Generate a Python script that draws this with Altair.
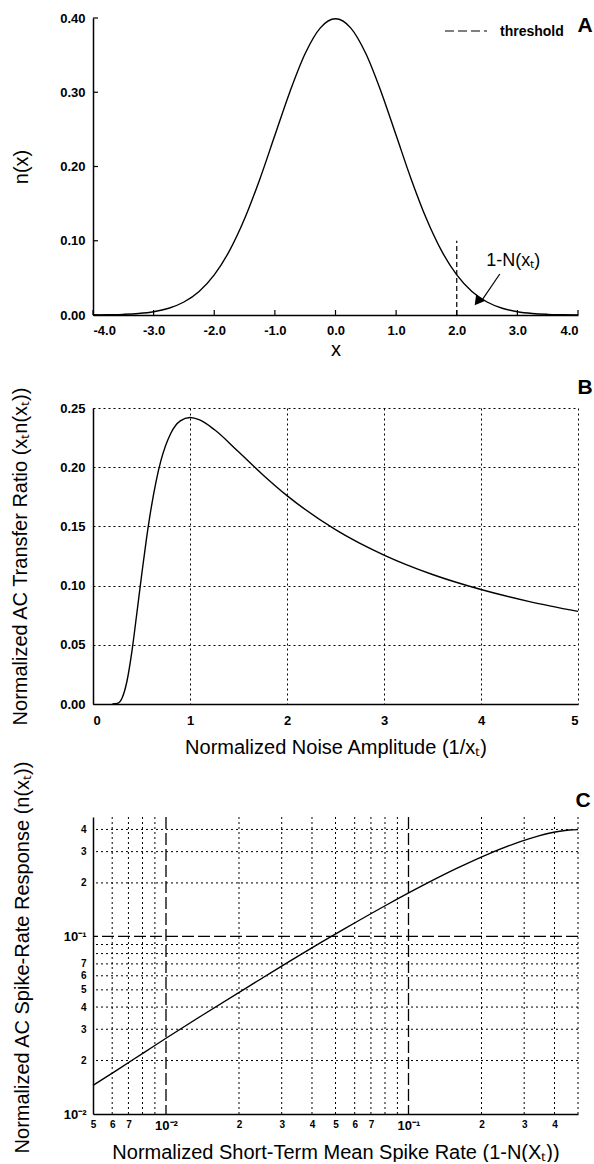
import altair as alt
import pandas as pd

FONT = "Liberation Sans"
W = 485
H = 297

# ---------------- Panel A : n(x) ----------------
a_x = [-4.0, -3.75, -3.5, -3.25, -3.0, -2.75, -2.5, -2.25, -2.0, -1.75, -1.5, -1.25, -1.0,
       -0.75, -0.5, -0.25, 0.0, 0.25, 0.5, 0.75, 1.0, 1.25, 1.5, 1.75, 2.0, 2.25, 2.5,
       2.75, 3.0, 3.25, 3.5, 3.75, 4.0]
a_y = [0.0001, 0.0004, 0.0009, 0.0020, 0.0044, 0.0091, 0.0175, 0.0317, 0.0540, 0.0863,
       0.1295, 0.1826, 0.2420, 0.3011, 0.3521, 0.3867, 0.3989, 0.3867, 0.3521, 0.3011,
       0.2420, 0.1826, 0.1295, 0.0863, 0.0540, 0.0317, 0.0175, 0.0091, 0.0044, 0.0020,
       0.0009, 0.0004, 0.0001]
a_xticks = [-4, -3, -2, -1, 0, 1, 2, 3, 4]
a_yticks = [0.0, 0.1, 0.2, 0.3, 0.4]
thr_x = [2.0]
thr_top = [0.10]
arrow_from = [2.71, 0.0552]
arrow_to = [2.40, 0.0180]
arrow_head = [2.36, 0.0200]
ann_pos = [2.93, 0.0727]

# ---------------- Panel B ----------------
b_s = [0.2, 0.25, 0.3, 0.35, 0.4, 0.45, 0.5, 0.55, 0.6, 0.65, 0.7, 0.8, 0.9, 1.0, 1.1,
       1.25, 1.5, 1.75, 2.0, 2.5, 3.0, 3.5, 4.0, 4.5, 5.0]
b_v = [0.0, 0.0005, 0.0051, 0.0192, 0.0438, 0.0754, 0.1080, 0.1389, 0.1657, 0.1879,
       0.2055, 0.2283, 0.2391, 0.2420, 0.2399, 0.2318, 0.2130, 0.1937, 0.1760, 0.1473,
       0.1258, 0.1094, 0.0967, 0.0865, 0.0782]
b_xticks = [0, 1, 2, 3, 4, 5]
b_yticks = [0.0, 0.05, 0.10, 0.15, 0.20, 0.25]

# ---------------- Panel C ----------------
c_q = [0.005, 0.00621, 0.0082, 0.0100, 0.0139, 0.0228, 0.0359, 0.0548, 0.0808, 0.1151,
       0.1587, 0.2119, 0.2743, 0.3446, 0.4207, 0.4602, 0.5]
c_n = [0.0145, 0.0175, 0.0224, 0.0267, 0.0355, 0.0540, 0.0790, 0.1109, 0.1497, 0.1942,
       0.2420, 0.2897, 0.3332, 0.3683, 0.3910, 0.3970, 0.3989]
c_x_minor = [0.006, 0.007, 0.008, 0.009, 0.02, 0.03, 0.04, 0.05, 0.06, 0.07, 0.08, 0.09,
             0.2, 0.3, 0.4, 0.5]
c_x_major = [0.01, 0.1]
c_y_minor = [0.02, 0.03, 0.04, 0.05, 0.06, 0.07, 0.08, 0.09, 0.2, 0.3, 0.4]
c_y_major = [0.1]
c_x_lab_vals = [0.005, 0.006, 0.007, 0.01, 0.02, 0.03, 0.04, 0.05, 0.06, 0.07, 0.1, 0.2, 0.3, 0.4]
c_x_lab_txt = ["5", "6", "7", "10⁻²", "2", "3", "4", "5", "6", "7", "10⁻¹", "2", "3", "4"]
c_y_lab_vals = [0.01, 0.02, 0.03, 0.04, 0.05, 0.06, 0.07, 0.1, 0.2, 0.3, 0.4]
c_y_lab_txt = ["10⁻²", "2", "3", "4", "5", "6", "7", "10⁻¹", "2", "3", "4"]


def label_expr(vals, txts):
    expr = "''"
    for v, t in reversed(list(zip(vals, txts))):
        expr = f"abs(datum.value - {v}) < {v}*1e-6 ? '{t}' : ({expr})"
    return expr


TITLE = dict(titleFontSize=20, titleFontWeight="normal", titleFont=FONT, titleColor="black")

# ======== Panel A ========
dfA = pd.DataFrame({"x": a_x, "y": a_y})
xA = alt.Scale(domain=[-4, 4], nice=False, zero=False)
yA = alt.Scale(domain=[0, 0.4], nice=False)
axA_x = alt.Axis(
    values=a_xticks, labelExpr="replace(format(datum.value, '.1f'), '\u2212', '-')",
    title="x", ticks=False, tickSize=0, grid=False, labelPadding=9,
    labelFontSize=13, labelFontWeight="bold", domainWidth=1.5,
    titleY=34, titleBaseline="middle", **TITLE)
axA_y = alt.Axis(
    values=a_yticks, format=".2f", title="n(x)", ticks=False, tickSize=0, grid=False,
    labelPadding=8, labelFontSize=13, labelFontWeight="bold", domainWidth=1.5,
    titleX=-72, titleBaseline="middle", titleAngle=270, **TITLE)


def XA(f="x"):
    return alt.X(f"{f}:Q", scale=xA, axis=axA_x)


def YA(f="y"):
    return alt.Y(f"{f}:Q", scale=yA, axis=axA_y)


curveA = alt.Chart(dfA).mark_line(color="black", strokeWidth=1.4, interpolate="monotone").encode(
    x=XA(), y=YA())
xticksA = alt.Chart(pd.DataFrame({"x": a_xticks})).mark_rule(color="black", strokeWidth=1.2).encode(
    x=XA(), y=alt.value(H), y2=alt.value(H - 5))
yticksA = alt.Chart(pd.DataFrame({"y": a_yticks})).mark_rule(color="black", strokeWidth=1.2).encode(
    y=YA(), x=alt.value(0), x2=alt.value(5))
thrA = alt.Chart(pd.DataFrame({"x": thr_x, "y": [0.0], "y2": thr_top})).mark_rule(
    color="black", strokeWidth=1.2, strokeDash=[5, 3]).encode(x=XA(), y=YA(), y2="y2:Q")
arrowA = alt.Chart(pd.DataFrame({"x": [arrow_from[0]], "y": [arrow_from[1]],
                                 "x2": [arrow_to[0]], "y2": [arrow_to[1]]})).mark_rule(
    color="black", strokeWidth=1.2).encode(x=XA(), y=YA(), x2="x2:Q", y2="y2:Q")
headA = alt.Chart(pd.DataFrame({"x": [arrow_head[0]], "y": [arrow_head[1]]})).mark_point(
    shape="triangle", filled=True, size=120, angle=218, color="black", opacity=1).encode(
    x=XA(), y=YA())
annA = alt.Chart(pd.DataFrame({"x": [ann_pos[0]], "y": [ann_pos[1]], "t": ["1-N(xₜ)"]})).mark_text(
    font=FONT, fontSize=18, color="black", align="center", baseline="middle").encode(
    x=XA(), y=YA(), text="t:N")
legLine = alt.Chart(pd.DataFrame({"k": [0]})).mark_rule(color="black", strokeWidth=1.2, strokeDash=[9, 4]).encode(
    x=alt.value(352), x2=alt.value(394), y=alt.value(13))
legText = alt.Chart(pd.DataFrame({"t": ["threshold"]})).mark_text(
    font=FONT, fontSize=14, fontWeight="bold", align="left", baseline="middle", color="black").encode(
    x=alt.value(407), y=alt.value(14), text="t:N")
letA = alt.Chart(pd.DataFrame({"t": ["A"]})).mark_text(
    font=FONT, fontSize=21, fontWeight="bold", align="center", baseline="middle", color="black").encode(
    x=alt.value(492), y=alt.value(8), text="t:N")

panelA = alt.layer(curveA, xticksA, yticksA, thrA, arrowA, headA, annA, legLine, legText, letA).properties(
    width=W, height=H)

# ======== Panel B ========
dfB = pd.DataFrame({"s": b_s, "v": b_v})
xB = alt.Scale(domain=[0, 5], nice=False, zero=False)
yB = alt.Scale(domain=[0, 0.25], nice=False)
curveB = alt.Chart(dfB).mark_line(color="black", strokeWidth=1.4, interpolate="monotone").encode(
    x=alt.X("s:Q", scale=xB, axis=alt.Axis(
        values=b_xticks, format="d", title="Normalized Noise Amplitude (1/xₜ)", ticks=False, tickSize=0,
        grid=True, gridDash=[2, 3], gridColor="black", gridOpacity=1, gridWidth=1,
        labelPadding=10, labelFontSize=13, labelFontWeight="bold", domainWidth=1.5,
        titleY=43, titleBaseline="middle", **TITLE)),
    y=alt.Y("v:Q", scale=yB, axis=alt.Axis(
        values=b_yticks, format=".2f", title="Normalized AC Transfer Ratio (xₜn(xₜ))", ticks=False,
        tickSize=0, grid=True, gridDash=[2, 3], gridColor="black", gridOpacity=1, gridWidth=1,
        labelPadding=8, labelFontSize=13, labelFontWeight="bold", domainWidth=1.5,
        titleX=-73, titleBaseline="middle", titleAngle=270, **TITLE)),
)
letB = alt.Chart(pd.DataFrame({"t": ["B"]})).mark_text(
    font=FONT, fontSize=21, fontWeight="bold", align="center", baseline="middle", color="black").encode(
    x=alt.value(492), y=alt.value(-20), text="t:N")
panelB = alt.layer(curveB, letB).properties(width=W, height=296)

# ======== Panel C ========
dfC = pd.DataFrame({"q": c_q, "n": c_n})
xC = alt.Scale(type="log", domain=[0.005, 0.5], nice=False)
yC = alt.Scale(type="log", domain=[0.01, 0.47], nice=False)
axC_x = alt.Axis(
    values=c_x_lab_vals, labelExpr=label_expr(c_x_lab_vals, c_x_lab_txt),
    title="Normalized Short-Term Mean Spike Rate (1-N(Xₜ))", ticks=False, tickSize=0, grid=False,
    labelPadding=5, labelFontWeight="bold", domainWidth=1.5, labelFlush=False, labelOverlap=False,
    labelFontSize={"condition": {"test": "datum.value == 0.01 || datum.value == 0.1", "value": 13}, "value": 10},
    titleY=38, titleBaseline="middle", **TITLE)
axC_y = alt.Axis(
    values=c_y_lab_vals, labelExpr=label_expr(c_y_lab_vals, c_y_lab_txt),
    title="Normalized AC Spike-Rate Response (n(xₜ))", ticks=False, tickSize=0, grid=False,
    labelPadding=7, labelFontWeight="bold", domainWidth=1.5, labelFlush=False, labelOverlap=False,
    labelFontSize={"condition": {"test": "datum.value == 0.01 || datum.value == 0.1", "value": 13}, "value": 10},
    titleX=-71, titleY=140, titleBaseline="middle", titleAngle=270, **TITLE)


def XC(f="q"):
    return alt.X(f"{f}:Q", scale=xC, axis=axC_x)


def YC(f="n"):
    return alt.Y(f"{f}:Q", scale=yC, axis=axC_y)


vminC = alt.Chart(pd.DataFrame({"q": c_x_minor})).mark_rule(color="black", strokeWidth=1, strokeDash=[2, 3]).encode(
    x=XC())
hminC = alt.Chart(pd.DataFrame({"n": c_y_minor})).mark_rule(color="black", strokeWidth=1, strokeDash=[2, 3]).encode(
    y=YC())
vmajC = alt.Chart(pd.DataFrame({"q": c_x_major})).mark_rule(color="black", strokeWidth=1.3, strokeDash=[12, 4]).encode(
    x=XC())
hmajC = alt.Chart(pd.DataFrame({"n": c_y_major})).mark_rule(color="black", strokeWidth=1.3, strokeDash=[12, 4]).encode(
    y=YC())
curveC = alt.Chart(dfC).mark_line(color="black", strokeWidth=1.4, interpolate="monotone").encode(
    x=XC(), y=YC())
letC = alt.Chart(pd.DataFrame({"t": ["C"]})).mark_text(
    font=FONT, fontSize=21, fontWeight="bold", align="center", baseline="middle", color="black").encode(
    x=alt.value(490), y=alt.value(-16), text="t:N")
panelC = alt.layer(curveC, vminC, hminC, vmajC, hmajC, letC).properties(width=W, height=H)


def spacer(h):
    return alt.Chart(pd.DataFrame({"k": [0]})).mark_point(opacity=0, size=1).encode(
        x=alt.value(0), y=alt.value(0)).properties(width=W, height=h)


chart = alt.vconcat(panelA, spacer(73), panelB, spacer(93), panelC, spacing=10, bounds="flush").properties(
    padding={"left": 9, "top": 12, "right": 0, "bottom": 0}
).configure_axis(
    labelFont=FONT, labelColor="black", domainColor="black", titleFont=FONT
).configure_view(stroke=None)

chart.save("out.html", embed_options={"renderer": "svg", "actions": False})
